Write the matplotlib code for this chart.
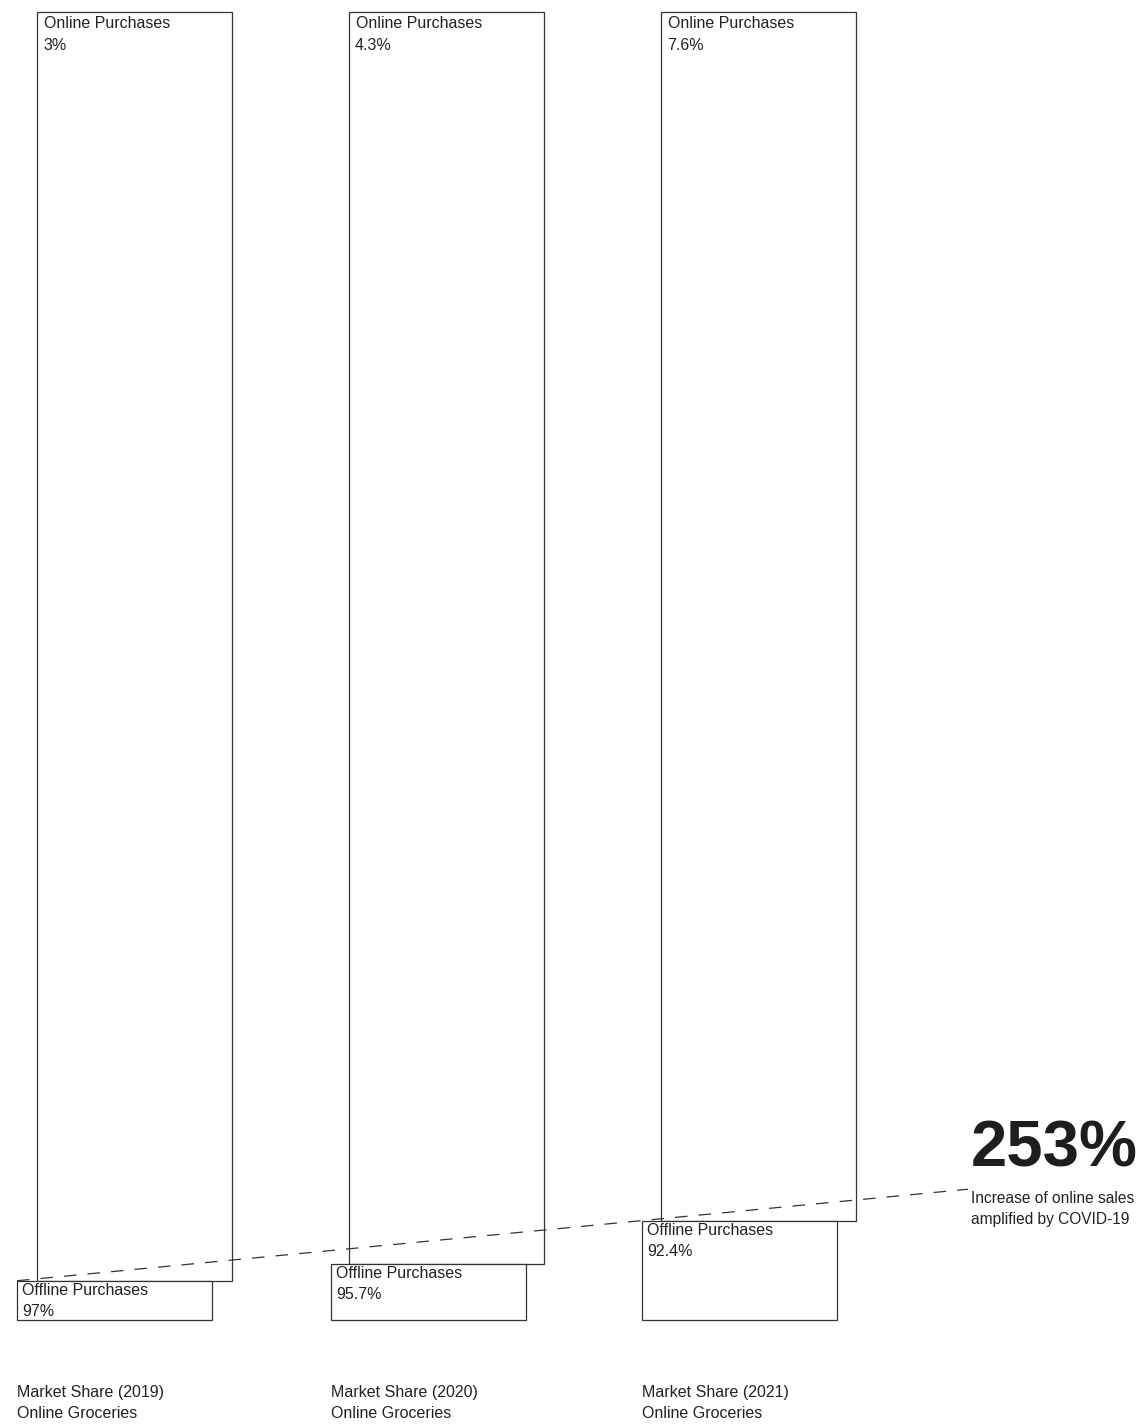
import matplotlib
matplotlib.use("Agg")
import matplotlib.pyplot as plt

# ---- data ----
years = ["2019", "2020", "2021"]
online_share = [3.0, 4.3, 7.6]      # small bottom box (labelled offline in source)
offline_share = [97.0, 95.7, 92.4]  # tall top box (labelled online in source)
bottom_labels = ["Offline Purchases", "Offline Purchases", "Offline Purchases"]
bottom_values = ["97%", "95.7%", "92.4%"]
top_labels = ["Online Purchases", "Online Purchases", "Online Purchases"]
top_values = ["3%", "4.3%", "7.6%"]
increase_text = "253%"
increase_sub = "Increase of online sales\namplified by COVID-19"

# ---- layout ----
W, H = 1148, 1426
px_per_pct = 13.08
base_px = 1320
bottom_left = [17, 331, 642]
top_left = [37, 349, 661]
box_w = 195
line_end_x = 968

plt.rcParams['font.family'] = ['Liberation Sans', 'DejaVu Sans']
plt.rcParams['lines.scale_dashes'] = False

fig = plt.figure(figsize=(W / 100, H / 100), dpi=100)
ax = fig.add_axes([0, 0, 1, 1])
ax.set_xlim(0, W)
ymin = -(H - base_px) / px_per_pct
ymax = base_px / px_per_pct
ax.set_ylim(ymin, ymax)
ax.axis('off')

ec = '#333333'
tc = '#222222'
lw = 0.9

# bottom boxes
ax.bar(bottom_left, online_share, width=box_w, align='edge', bottom=0,
       facecolor='white', edgecolor=ec, linewidth=lw, zorder=3)
# top boxes
ax.bar(top_left, offline_share, width=box_w, align='edge', bottom=online_share,
       facecolor='none', edgecolor=ec, linewidth=lw, zorder=2)

fs = 11.5
for i in range(len(years)):
    ytop = online_share[i] + offline_share[i]
    ax.annotate(top_labels[i], (top_left[i], ytop), xytext=(7, -12),
                textcoords='offset pixels', ha='left', va='center',
                fontsize=fs, color=tc, zorder=5)
    ax.annotate(top_values[i], (top_left[i], ytop), xytext=(6, -34),
                textcoords='offset pixels', ha='left', va='center',
                fontsize=fs, color=tc, zorder=5)
    ax.annotate(bottom_labels[i], (bottom_left[i], online_share[i]), xytext=(5, -10),
                textcoords='offset pixels', ha='left', va='center',
                fontsize=fs, color=tc, zorder=5)
    ax.annotate(bottom_values[i], (bottom_left[i], online_share[i]), xytext=(5, -31),
                textcoords='offset pixels', ha='left', va='center',
                fontsize=fs, color=tc, zorder=5)
    ax.annotate("Market Share (%s)" % years[i], (bottom_left[i], 0), xytext=(0, -72),
                textcoords='offset pixels', ha='left', va='center',
                fontsize=fs, color=tc)
    ax.annotate("Online Groceries", (bottom_left[i], 0), xytext=(0, -93),
                textcoords='offset pixels', ha='left', va='center',
                fontsize=fs, color=tc)

# dashed trend line through 2019 and 2021 online shares
x0, y0 = bottom_left[0], online_share[0]
x1, y1 = bottom_left[-1], online_share[-1]
slope = (y1 - y0) / (x1 - x0)
y_end = y0 + slope * (line_end_x - x0)
ax.plot([x0, line_end_x], [y0, y_end], color=ec, linewidth=lw,
        linestyle=(0, (9, 8)), zorder=4)

ax.annotate(increase_text, (line_end_x, y_end), xytext=(3, 40),
            textcoords='offset pixels', ha='left', va='center',
            fontsize=47, fontweight='bold', color='#1e1e1e')
ax.annotate(increase_sub, (line_end_x, y_end), xytext=(3, -20),
            textcoords='offset pixels', ha='left', va='center',
            fontsize=11.2, color=tc, linespacing=1.5)

fig.savefig("out.png", dpi=100, facecolor='white')
